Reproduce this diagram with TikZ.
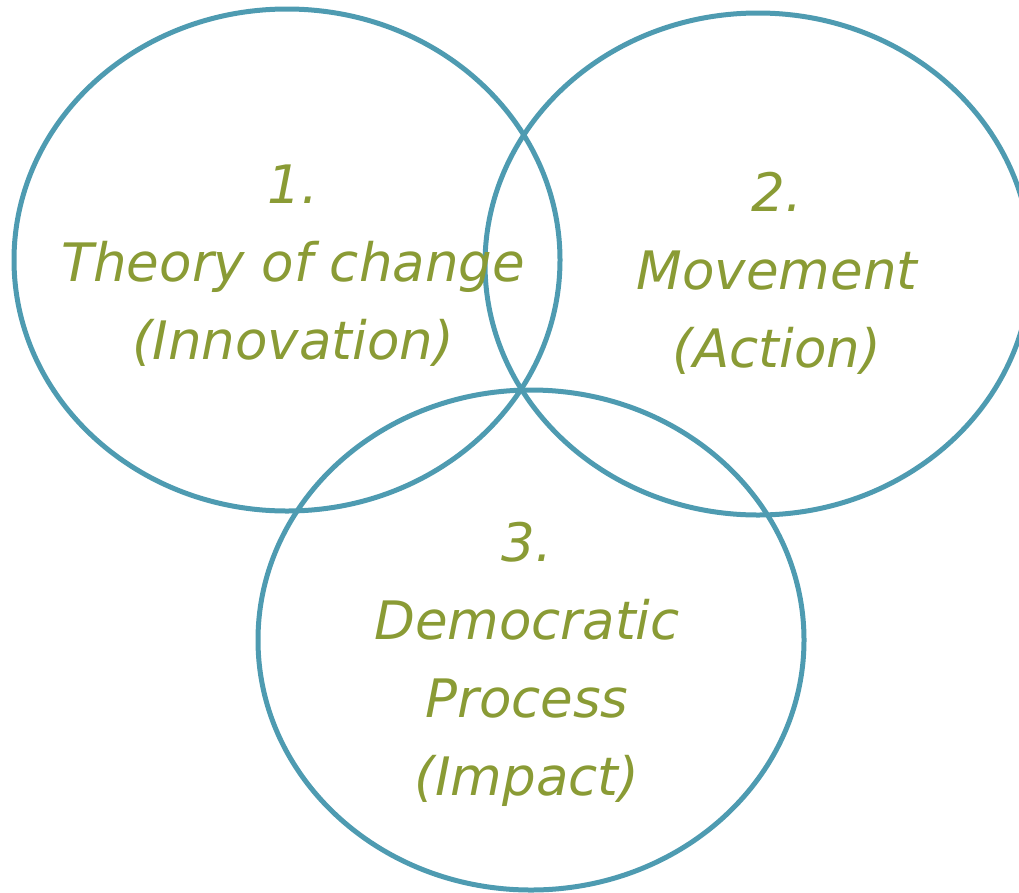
\documentclass[tikz,border=0pt]{standalone}
\usepackage{fontspec}
\setmainfont{DejaVu Sans}
\definecolor{ring}{HTML}{4E9BB1}
\definecolor{lbl}{HTML}{8A9B35}
\tikzset{
  ring/.style={draw=ring, line width=5pt},
  lbl/.style={text=lbl, align=center, font=\fontsize{53}{78}\selectfont\itshape, inner sep=0pt}
}
\begin{document}
\begin{tikzpicture}[x=1pt,y=-1pt]
\useasboundingbox (0,0) rectangle (1019,892);
\draw[ring] (287,260) ellipse [x radius=273, y radius=251];
\draw[ring] (758,264) ellipse [x radius=273, y radius=251];
\draw[ring] (531,640) ellipse [x radius=273, y radius=250];
\node[lbl] (t1) at (293,266) {1.\\Theory of change\\(Innovation)};
\node[lbl] (t2) at (777,273) {2.\\Movement\\(Action)};
\node[lbl] (t3) at (527,664) {3.\\Democratic\\Process\\(Impact)};
\end{tikzpicture}
\end{document}
